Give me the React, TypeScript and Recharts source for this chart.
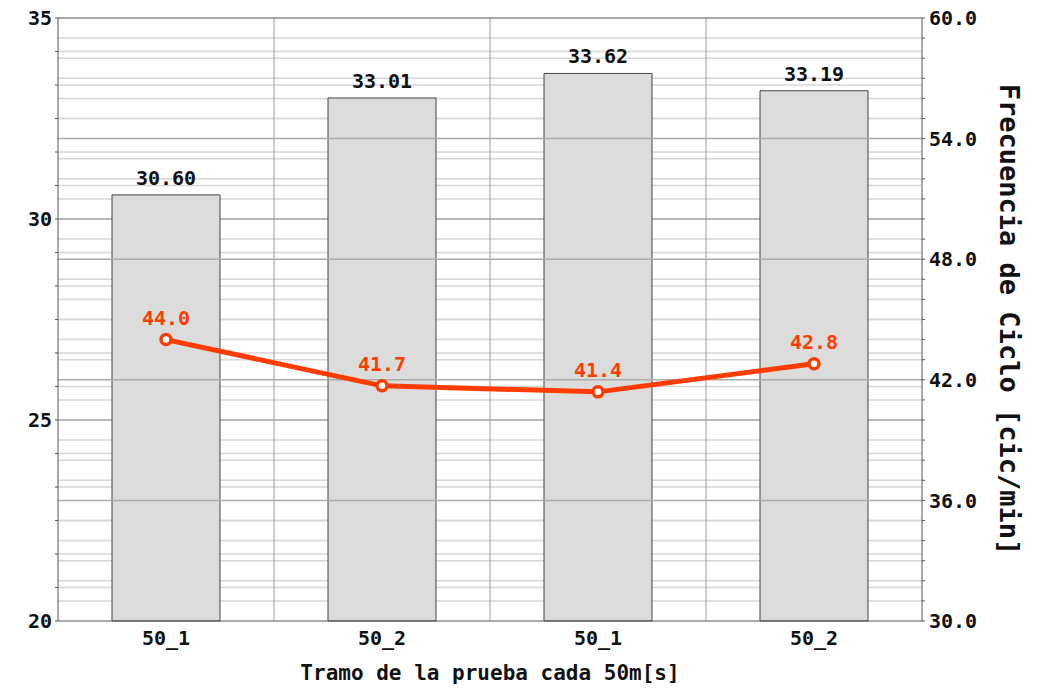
import React from 'react';
import {
  ComposedChart,
  Bar,
  Line,
  XAxis,
  YAxis,
  ReferenceLine,
  LabelList,
  Label,
} from 'recharts';

const categories = ['50_1', '50_2', '50_1', '50_2'];
const tiempos = [30.6, 33.01, 33.62, 33.19];
const frecuencias = [44.0, 41.7, 41.4, 42.8];

const leftTicks = [20, 25, 30, 35];
const leftMinor = [
  20.833, 21.667, 22.5, 23.333, 24.167, 25.833, 26.667, 27.5, 28.333, 29.167,
  30.833, 31.667, 32.5, 33.333, 34.167,
];
const leftMajorGrid = [25, 30];
const rightTicks = [30, 36, 42, 48, 54, 60];
const rightMinor = [
  31, 32, 33, 34, 35, 37, 38, 39, 40, 41, 43, 44, 45, 46, 47, 49, 50, 51, 52, 53,
  55, 56, 57, 58, 59,
];
const rightMajorGrid = [36, 42, 48, 54];
// category indices whose band start gets a vertical separator
const categoryBounds = [1, 2, 3];

const data = categories.map((c, i) => ({
  id: i,
  name: c,
  tiempo: tiempos[i],
  frecuencia: frecuencias[i],
}));

const FONT = '"DejaVu Sans Mono", monospace';
const RED = '#ff3c00';
const MINOR = '#d6d6d6';
const MAJOR = '#ababab';
const FRAME = '#555555';

const leftAll = [...leftTicks, ...leftMinor].sort((a, b) => a - b);
const rightAll = [...rightTicks, ...rightMinor].sort((a, b) => a - b);

export default function App() {
  return (
    <div style={{ position: 'absolute', left: 0, top: 0, background: '#fff' }}>
      <ComposedChart
        width={1052}
        height={688}
        data={data}
        margin={{ top: 18, right: 0, bottom: 0, left: 0 }}
        barCategoryGap="25%"
      >
        <XAxis
          xAxisId="cat"
          dataKey="id"
          type="category"
          height={67}
          tickFormatter={(i: number) => categories[i]}
          tickLine={false}
          tickSize={0}
          tickMargin={10}
          axisLine={{ stroke: FRAME }}
          tick={{ fontFamily: FONT, fontSize: 20, fontWeight: 'bold', fill: '#111' }}
        >
          <Label
            value="Tramo de la prueba cada 50m[s]"
            position="insideBottom"
            offset={8}
            style={{ fontFamily: FONT, fontSize: 21, fontWeight: 'bold', fill: '#111' }}
          />
        </XAxis>
        <YAxis
          yAxisId="left"
          orientation="left"
          width={58}
          domain={[20, 35]}
          ticks={leftAll}
          interval={0}
          tickFormatter={(v: number) => (leftTicks.includes(v) ? String(v) : '')}
          tickSize={3}
          tickMargin={3}
          tickLine={{ stroke: FRAME }}
          axisLine={{ stroke: FRAME }}
          tick={{ fontFamily: FONT, fontSize: 20, fontWeight: 'bold', fill: '#111' }}
        />
        <YAxis
          yAxisId="right"
          orientation="right"
          width={130}
          domain={[30, 60]}
          ticks={rightAll}
          interval={0}
          tickFormatter={(v: number) => (rightTicks.includes(v) ? v.toFixed(1) : '')}
          tickSize={3}
          tickMargin={4}
          tickLine={{ stroke: FRAME }}
          axisLine={{ stroke: FRAME }}
          tick={{ fontFamily: FONT, fontSize: 20, fontWeight: 'bold', fill: '#111' }}
        >
          <Label
            value="Frecuencia de Ciclo [cic/min]"
            angle={90}
            position="center"
            dx={23}
            style={{ fontFamily: FONT, fontSize: 27, fontWeight: 'bold', fill: '#111' }}
          />
        </YAxis>

        {leftMinor.map((v) => (
          <ReferenceLine
            key={'lm' + v}
            y={v}
            yAxisId="left"
            xAxisId="cat"
            stroke={MINOR}
            strokeWidth={1.5}
            zIndex={-100}
          />
        ))}
        {rightMinor.map((v) => (
          <ReferenceLine
            key={'rm' + v}
            y={v}
            yAxisId="right"
            xAxisId="cat"
            stroke={MINOR}
            strokeWidth={1.5}
            zIndex={-100}
          />
        ))}
        {leftMajorGrid.map((v) => (
          <ReferenceLine
            key={'lM' + v}
            y={v}
            yAxisId="left"
            xAxisId="cat"
            stroke={MAJOR}
            strokeWidth={1.5}
            zIndex={-90}
          />
        ))}
        {categoryBounds.map((v) => (
          <ReferenceLine
            key={'vb' + v}
            x={v}
            position="start"
            xAxisId="cat"
            yAxisId="left"
            stroke="#9a9a9a"
            strokeWidth={1}
            zIndex={-90}
          />
        ))}
        <ReferenceLine y={35} yAxisId="left" xAxisId="cat" stroke={FRAME} strokeWidth={1} zIndex={500} />

        <Bar
          xAxisId="cat"
          yAxisId="left"
          dataKey="tiempo"
          fill="#dcdcdc"
          stroke="#444"
          strokeWidth={1}
          isAnimationActive={false}
        >
          <LabelList
            dataKey="tiempo"
            position="top"
            offset={10}
            formatter={(v: number) => v.toFixed(2)}
            style={{ fontFamily: FONT, fontSize: 20, fontWeight: 'bold', fill: '#111' }}
          />
        </Bar>

        {rightMajorGrid.map((v) => (
          <ReferenceLine
            key={'rM' + v}
            y={v}
            yAxisId="right"
            xAxisId="cat"
            stroke={MAJOR}
            strokeWidth={1.5}
            zIndex={350}
          />
        ))}

        <Line
          xAxisId="cat"
          yAxisId="right"
          dataKey="frecuencia"
          stroke={RED}
          strokeWidth={5}
          dot={{ r: 5, fill: '#fff', stroke: RED, strokeWidth: 3.5 }}
          isAnimationActive={false}
        >
          <LabelList
            dataKey="frecuencia"
            position="top"
            offset={15}
            formatter={(v: number) => v.toFixed(1)}
            style={{ fontFamily: FONT, fontSize: 20, fontWeight: 'bold', fill: RED }}
          />
        </Line>
      </ComposedChart>
    </div>
  );
}
